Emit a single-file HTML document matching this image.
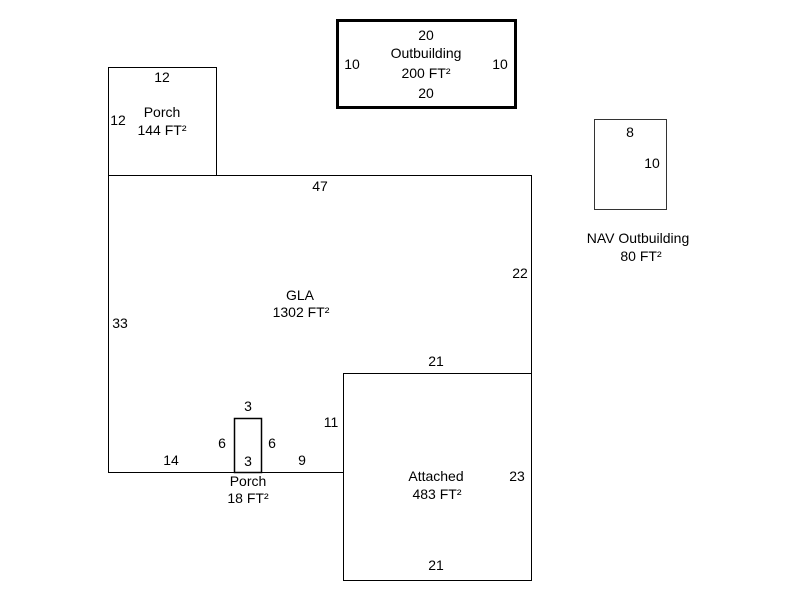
<!DOCTYPE html>
<html><head><meta charset="utf-8"><style>
html,body{margin:0;padding:0;background:#fff;}
svg{display:block;}
text{font-family:"Liberation Sans",Arial,sans-serif;font-size:14px;fill:#000;text-anchor:middle;}
</style></head><body>
<svg width="800" height="600" viewBox="0 0 800 600" xmlns="http://www.w3.org/2000/svg">
<g fill="none" stroke="#000" stroke-width="1">
<rect x="337.5" y="20.5" width="178" height="87" stroke-width="3"/>
<rect x="108.5" y="67.5" width="108" height="108"/>
<polygon points="108.5,175.5 531.5,175.5 531.5,373.5 343.5,373.5 343.5,472.5 108.5,472.5"/>
<rect x="343.5" y="373.5" width="188" height="207"/>
<rect x="234.5" y="418.5" width="27" height="54" stroke-width="1.5"/>
<rect x="594.5" y="119.5" width="72" height="90" stroke="#333"/>
</g>
<text x="426" y="40">20</text>
<text x="426" y="58">Outbuilding</text>
<text x="426" y="78">200 FT²</text>
<text x="426" y="98">20</text>
<text x="352" y="69">10</text>
<text x="500" y="69">10</text>
<text x="162" y="82">12</text>
<text x="118" y="125">12</text>
<text x="162" y="117">Porch</text>
<text x="162" y="135">144 FT²</text>
<text x="630" y="137">8</text>
<text x="652" y="168">10</text>
<text x="638" y="243">NAV Outbuilding</text>
<text x="641" y="261">80 FT²</text>
<text x="320" y="191">47</text>
<text x="520" y="278">22</text>
<text x="120" y="328">33</text>
<text x="300" y="300">GLA</text>
<text x="301" y="317">1302 FT²</text>
<text x="436" y="366">21</text>
<text x="331" y="427">11</text>
<text x="248" y="411">3</text>
<text x="222" y="448">6</text>
<text x="272" y="448">6</text>
<text x="248" y="466">3</text>
<text x="171" y="465">14</text>
<text x="302" y="465">9</text>
<text x="248" y="486">Porch</text>
<text x="248" y="503">18 FT²</text>
<text x="436" y="481">Attached</text>
<text x="437" y="499">483 FT²</text>
<text x="517" y="481">23</text>
<text x="436" y="570">21</text>
</svg>
</body></html>
